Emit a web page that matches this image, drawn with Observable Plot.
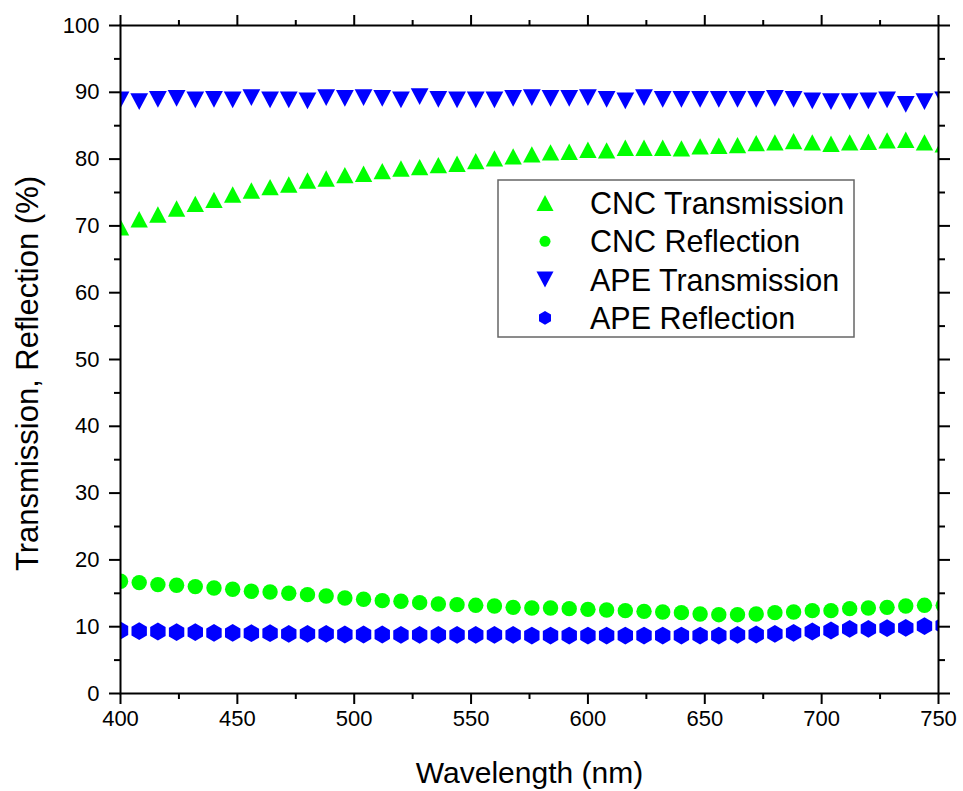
<!DOCTYPE html>
<html><head><meta charset="utf-8">
<script src="https://cdn.jsdelivr.net/npm/d3@7"></script>
<script src="https://cdn.jsdelivr.net/npm/@observablehq/plot@0.6"></script>
<style>body{margin:0;background:#fff} #chart{width:963px;height:791px}</style>
</head><body><div id="chart"></div>
<script>
// ---- data ----
const wavelength = [400,408,416,424,432,440,448,456,464,472,480,488,496,504,512,520,528,536,544,552,560,568,576,584,592,600,608,616,624,632,640,648,656,664,672,680,688,696,704,712,720,728,736,744,752];
const cncTransmission = [69.8,71.0,71.7,72.6,73.3,73.9,74.7,75.3,75.8,76.2,76.8,77.1,77.6,77.8,78.2,78.6,78.8,79.1,79.3,79.7,80.1,80.4,80.7,81.0,81.1,81.4,81.3,81.7,81.7,81.7,81.6,81.9,82.0,82.1,82.4,82.5,82.7,82.5,82.3,82.5,82.6,82.8,82.9,82.5,82.2];
const cncReflection = [16.8,16.6,16.3,16.2,16.0,15.8,15.6,15.3,15.2,15.0,14.8,14.6,14.3,14.1,13.9,13.8,13.6,13.4,13.3,13.2,13.1,12.9,12.8,12.8,12.7,12.6,12.5,12.4,12.3,12.2,12.1,11.9,11.8,11.8,11.9,12.1,12.2,12.4,12.4,12.7,12.8,12.9,13.1,13.2,13.2];
const apeTransmission = [88.85,88.6,88.95,89.1,88.85,88.95,88.85,89.2,88.85,88.85,88.7,89.2,89.1,89.2,89.1,88.85,89.35,88.95,88.85,88.85,88.85,89.1,89.2,89.1,89.1,89.2,88.95,88.7,89.2,88.95,88.95,88.95,88.95,88.95,88.95,89.1,88.95,88.7,88.6,88.6,88.7,88.85,88.2,88.6,88.85];
const apeReflection = [9.43,9.33,9.28,9.18,9.18,9.08,9.08,9.03,9.03,8.93,8.93,8.93,8.83,8.83,8.83,8.78,8.78,8.78,8.78,8.78,8.78,8.78,8.68,8.68,8.68,8.68,8.68,8.68,8.68,8.68,8.68,8.68,8.68,8.78,8.83,8.93,9.08,9.28,9.43,9.68,9.68,9.78,9.83,10.08,10.18];
const seriesNames = ["CNC Transmission","CNC Reflection","APE Transmission","APE Reflection"];
const seriesColors = ["#00ff00","#00ff00","#0000ff","#0000ff"];
const xMajor = [400,450,500,550,600,650,700,750];
const xMinor = [425,475,525,575,625,675,725];
const yMajor = [0,10,20,30,40,50,60,70,80,90,100];
const yMinor = [5,15,25,35,45,55,65,75,85,95];

// ---- symbols (bounding-box centred, width = 2r) ----
const triUp = {draw(ctx, size){const r=Math.sqrt(size/Math.PI), w=2*r, h=w*0.94; ctx.moveTo(0,-h/2); ctx.lineTo(w/2,h/2); ctx.lineTo(-w/2,h/2); ctx.closePath();}};
const triDown = {draw(ctx, size){const r=Math.sqrt(size/Math.PI), w=2*r, h=w*0.94; ctx.moveTo(0,h/2); ctx.lineTo(w/2,-h/2); ctx.lineTo(-w/2,-h/2); ctx.closePath();}};
const hexagon = {draw(ctx, size){const rx=Math.sqrt(size/Math.PI), ry=rx*2/Math.sqrt(3), hy=ry/2; ctx.moveTo(0,ry); ctx.lineTo(rx,hy); ctx.lineTo(rx,-hy); ctx.lineTo(0,-ry); ctx.lineTo(-rx,-hy); ctx.lineTo(-rx,hy); ctx.closePath();}};
const seriesSymbols = [triUp, "circle", triDown, hexagon];
const seriesR = [8.7, 7.7, 8.9, 7.7];
const seriesValues = [cncTransmission, cncReflection, apeTransmission, apeReflection];

const rows = [];
seriesNames.forEach((name, k) => wavelength.forEach((w, i) => rows.push({series: k, x: w, y: seriesValues[k][i]})));

const font = "'Liberation Sans', Arial, sans-serif";
const plot = Plot.plot({
  width: 963, height: 791,
  marginLeft: 120, marginRight: 25, marginTop: 25, marginBottom: 98,
  x: {domain: [400, 750]},
  y: {domain: [0, 100]},
  style: {fontFamily: font, background: "white", color: "black"},
  marks: [
    ...seriesNames.map((name, k) => Plot.dot(rows.filter(d => d.series === k), {
      x: "x", y: "y", r: seriesR[k], symbol: seriesSymbols[k], fill: seriesColors[k], stroke: "none", clip: true
    })),
    Plot.frame({stroke: "black", strokeWidth: 2}),
    Plot.axisX({anchor: "bottom", ticks: xMajor, tickSize: 11, tickPadding: 6, fontSize: 22, strokeWidth: 2, label: null, tickFormat: d => String(d)}),
    Plot.axisX({anchor: "bottom", ticks: xMinor, tickSize: 6, strokeWidth: 2, label: null, tickFormat: () => ""}),
    Plot.axisX({anchor: "top", ticks: xMajor, tickSize: 11, strokeWidth: 2, label: null, tickFormat: () => ""}),
    Plot.axisX({anchor: "top", ticks: xMinor, tickSize: 6, strokeWidth: 2, label: null, tickFormat: () => ""}),
    Plot.axisY({anchor: "left", ticks: yMajor, tickSize: 11, tickPadding: 10, fontSize: 22, strokeWidth: 2, label: null, tickFormat: d => String(d)}),
    Plot.axisY({anchor: "left", ticks: yMinor, tickSize: 6, strokeWidth: 2, label: null, tickFormat: () => ""}),
    Plot.axisY({anchor: "right", ticks: yMajor, tickSize: 11, strokeWidth: 2, label: null, tickFormat: () => ""}),
    Plot.axisY({anchor: "right", ticks: yMinor, tickSize: 6, strokeWidth: 2, label: null, tickFormat: () => ""}),
    Plot.text(["Wavelength (nm)"], {frameAnchor: "bottom", dy: 80, fontSize: 30, textAnchor: "middle", lineAnchor: "middle", fill: "black"}),
    Plot.text(["Transmission, Reflection (%)"], {frameAnchor: "left", dx: -92, dy: 14, rotate: -90, fontSize: 31, textAnchor: "middle", lineAnchor: "middle", fill: "black"})
  ]
});
document.getElementById("chart").appendChild(plot);

// ---- legend ----
const svg = d3.select(plot);
const lg = svg.append("g").attr("text-anchor", "start");
lg.append("rect").attr("x", 498).attr("y", 180).attr("width", 356).attr("height", 157)
  .attr("fill", "white").attr("stroke", "#666").attr("stroke-width", 1.5);
const legendR = [8.5, 5.5, 8.5, 6];
seriesNames.forEach((name, k) => {
  const cy = 203 + k * 38.3;
  const sym = k === 1 ? d3.symbolCircle : seriesSymbols[k];
  lg.append("path").attr("d", d3.symbol(sym, legendR[k] * legendR[k] * Math.PI)())
    .attr("transform", `translate(545,${cy})`).attr("fill", seriesColors[k]);
  lg.append("text").attr("x", 590).attr("y", cy).attr("dy", "0.36em").attr("text-anchor", "start")
    .attr("font-family", font).attr("font-size", 30.5).attr("fill", "black").text(name);
});
</script>
</body></html>
